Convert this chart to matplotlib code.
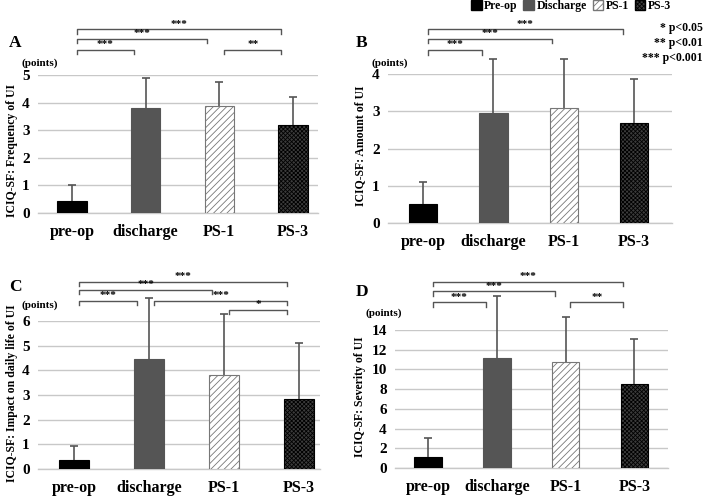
import matplotlib.pyplot as plt
import numpy as np
from matplotlib.patches import Patch
import matplotlib.transforms as mtransforms

plt.rcParams['font.family'] = ['Liberation Serif', 'DejaVu Serif']
plt.rcParams['font.weight'] = 'bold'
plt.rcParams['hatch.linewidth'] = 0.6

groups = ["pre-op", "discharge", "PS-1", "PS-3"]
legend_names = ["Pre-op", "Discharge", "PS-1", "PS-3"]

# means and SD (upper whisker only)
freq_mean = [0.43, 3.80, 3.87, 3.20]
freq_sd = [0.60, 1.10, 0.86, 1.00]
amount_mean = [0.50, 2.95, 3.10, 2.68]
amount_sd = [0.60, 1.45, 1.30, 1.19]
impact_mean = [0.35, 4.45, 3.80, 2.85]
impact_sd = [0.57, 2.50, 2.50, 2.25]
severity_mean = [1.15, 11.2, 10.8, 8.5]
severity_sd = [1.85, 6.2, 4.5, 4.6]

# brackets: (from, to, height in axes fraction, label)
freq_sig = [(0, 1, 1.18, "***"), (0, 2, 1.26, "***"), (0, 3, 1.33, "***"), (2, 3, 1.18, "**")]
amount_sig = [(0, 1, 1.16, "***"), (0, 2, 1.235, "***"), (0, 3, 1.30, "***")]
impact_sig = [(0, 1, 1.135, "***"), (0, 2, 1.21, "***"), (0, 3, 1.265, "***"),
              (1, 3, 1.135, "***"), (2, 3, 1.075, "*")]
severity_sig = [(0, 1, 1.20, "***"), (0, 2, 1.28, "***"), (0, 3, 1.35, "***"), (2, 3, 1.20, "**")]

face = ["black", "#555555", "white", "#3c3c3c"]
edge = ["black", "#555555", "#777777", "black"]
hatch = [None, None, "/////", "xxxxxxxx"]

W, H = 709, 496
fig = plt.figure(figsize=(W / 100, H / 100), dpi=100)


def panel(box, xlim, ymax, ystep, means, sds, sig, letter, ylabel, ylab_pos, pts_pos, let_pos):
    l, r, top, bot = box
    ax = fig.add_axes([l / W, 1 - bot / H, (r - l) / W, (bot - top) / H])
    x = np.arange(len(groups))
    yerr = [np.zeros(len(sds)), sds]
    for i in range(len(groups)):
        ax.bar(x[i], means[i], width=0.4, color=face[i], edgecolor=edge[i],
               hatch=hatch[i], linewidth=0.8, zorder=3)
    eb = ax.errorbar(x, means, yerr=yerr, fmt='none', ecolor='#555555', elinewidth=1.2,
                     capsize=3, capthick=1.2, zorder=4)
    eb[1][0].set_visible(False)
    for c in eb[1]:
        c.set_clip_on(False)
    for b in eb[2]:
        b.set_clip_on(False)
    ax.set_xlim(*xlim)
    ax.set_ylim(0, ymax)
    ax.set_yticks(np.arange(0, ymax + 0.01, ystep))
    ax.yaxis.grid(True, color='#c8c8c8', linewidth=1, zorder=0)
    ax.set_axisbelow(True)
    for s in ['top', 'right', 'left']:
        ax.spines[s].set_visible(False)
    ax.spines['bottom'].set_color('#c8c8c8')
    ax.spines['bottom'].set_linewidth(1)
    ax.tick_params(length=0, labelsize=11, pad=6)
    ax.set_xticks(x)
    ax.set_xticklabels(groups, fontsize=11.5)
    ax.tick_params(axis='x', pad=8)
    trans = mtransforms.blended_transform_factory(ax.transData, ax.transAxes)
    for a, b, h, lab in sig:
        xs = [a + 0.07, a + 0.07, b - 0.16, b - 0.16]
        ys = [h - 0.03, h, h, h - 0.03]
        ax.plot(xs, ys, color='#555555', lw=1, transform=trans, clip_on=False)
        ax.text((xs[0] + xs[-1]) / 2, h + 0.005, lab, transform=trans, ha='center',
                va='bottom', fontsize=8, clip_on=False)
    fig.text(ylab_pos[0] / W, 1 - ylab_pos[1] / H, ylabel, rotation=90,
             ha='center', va='center', fontsize=8.5)
    fig.text(pts_pos[0] / W, 1 - pts_pos[1] / H, "(points)", ha='center',
             va='center', fontsize=8)
    fig.text(let_pos[0] / W, 1 - let_pos[1] / H, letter, ha='left',
             va='center', fontsize=12.5)
    return ax


panel((38, 318, 75, 213), (-0.46, 3.34), 5, 1, freq_mean, freq_sd, freq_sig, "A",
      "ICIQ-SF: Frequency of UI", (12, 150), (40, 63), (9, 43))
panel((388, 672, 74, 223), (-0.5, 3.54), 4, 1, amount_mean, amount_sd, amount_sig, "B",
      "ICIQ-SF: Amount of UI", (360, 146), (390, 63), (356, 43))
panel((38, 320, 321, 469), (-0.48, 3.28), 6, 1, impact_mean, impact_sd, impact_sig, "C",
      "ICIQ-SF: Impact on daily life of UI", (12, 393), (40, 305), (9, 287))
panel((395, 668, 330, 468), (-0.48, 3.49), 14, 2, severity_mean, severity_sd, severity_sig, "D",
      "ICIQ-SF: Severity of UI", (360, 397), (384, 313), (356, 292))

handles = [Patch(facecolor=face[i], edgecolor=edge[i], hatch=hatch[i], label=legend_names[i])
           for i in range(4)]
fig.legend(handles=handles, loc='center', bbox_to_anchor=(571 / W, 1 - 6 / H), ncol=4,
           frameon=False, fontsize=8.5, handlelength=0.9, handleheight=0.9,
           handletextpad=0.2, columnspacing=0.5, borderpad=0)

for txt, yy in [("* p<0.05", 28), ("** p<0.01", 43), ("*** p<0.001", 58)]:
    fig.text(703 / W, 1 - yy / H, txt, ha='right', va='center', fontsize=8.5)

fig.savefig("out.png", dpi=100)
